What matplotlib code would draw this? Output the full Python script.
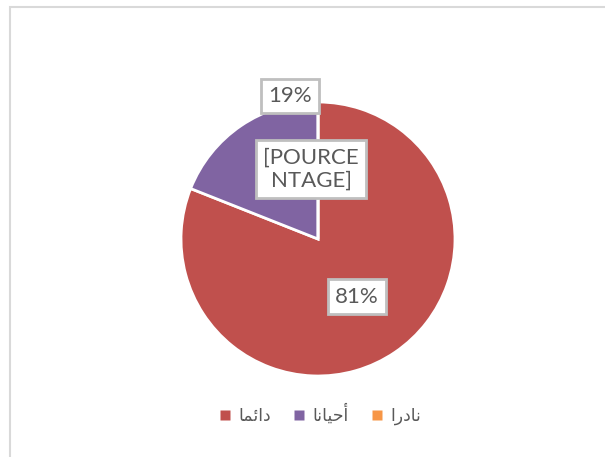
import matplotlib
matplotlib.use("Agg")
import matplotlib.pyplot as plt
from matplotlib.patches import Rectangle
from matplotlib.lines import Line2D

# data
categories = ["دائما", "أحيانا", "نادرا"]
values = [81, 19, 0]
point_labels = ["81%", "19%", "[POURCE\nNTAGE]"]
colors = ["#C0504D", "#8064A2", "#F79646"]

# minimal arabic shaping (matplotlib has no bidi / joining support)
# letter: (isolated, final, initial, medial)
forms = {
    "\u0627": ("\uFE8D", "\uFE8E", None, None),
    "\u0623": ("\uFE83", "\uFE84", None, None),
    "\u062F": ("\uFEA9", "\uFEAA", None, None),
    "\u0631": ("\uFEAD", "\uFEAE", None, None),
    "\u0626": ("\uFE89", "\uFE8A", "\uFE8B", "\uFE8C"),
    "\u0645": ("\uFEE1", "\uFEE2", "\uFEE3", "\uFEE4"),
    "\u062D": ("\uFEA1", "\uFEA2", "\uFEA3", "\uFEA4"),
    "\u064A": ("\uFEF1", "\uFEF2", "\uFEF3", "\uFEF4"),
    "\u0646": ("\uFEE5", "\uFEE6", "\uFEE7", "\uFEE8"),
}

def shape(word):
    out = []
    for i, ch in enumerate(word):
        f = forms[ch]
        prev_joins = i > 0 and forms[word[i - 1]][2] is not None
        joins_next = i < len(word) - 1 and f[2] is not None
        if prev_joins and joins_next:
            out.append(f[3])
        elif prev_joins:
            out.append(f[1])
        elif joins_next:
            out.append(f[2])
        else:
            out.append(f[0])
    return "".join(reversed(out))

W, H = 605, 457
fig = plt.figure(figsize=(W / 100, H / 100), dpi=100)

# chart area border (runs off right/bottom edges)
fig.patches.append(Rectangle((9.5 / W, -0.1), 1.2, 1.1 - 7.5 / H,
                             transform=fig.transFigure, fill=False,
                             edgecolor="#D9D9D9", linewidth=1.5))

cx, cy, r = 318, 239, 137
ax = fig.add_axes([(cx - r) / W, (H - cy - r) / H, 2 * r / W, 2 * r / H])
wedges, _ = ax.pie(values, colors=colors, startangle=90, counterclock=False,
                   wedgeprops=dict(edgecolor="white", linewidth=2))
ax.set_xlim(-1, 1)
ax.set_ylim(-1, 1)
ax.axis("off")

label_pos = [(0.285, -0.42), (-0.205, 1.045), (-0.05, 0.51)]
for txt, (x, y) in zip(point_labels, label_pos):
    ax.text(x, y, txt, ha="center", va="center", fontsize=16,
            family="Lato", color="#595959", linespacing=1.2,
            bbox=dict(boxstyle="square,pad=0.32", facecolor="white",
                      edgecolor="#BFBFBF", linewidth=2))

handles = [Line2D([], [], linestyle="none", marker="s", markersize=6.5,
                  markerfacecolor=c, markeredgecolor="none") for c in colors]
fig.legend(handles, [shape(c) for c in categories], loc="center",
           bbox_to_anchor=(320 / W, 1 - 415 / H), ncol=3, frameon=False,
           prop=dict(family="DejaVu Sans", size=12.5), labelcolor="#595959",
           handlelength=0.7, handletextpad=0.4, columnspacing=1.3)

fig.savefig("out.png", dpi=100)
